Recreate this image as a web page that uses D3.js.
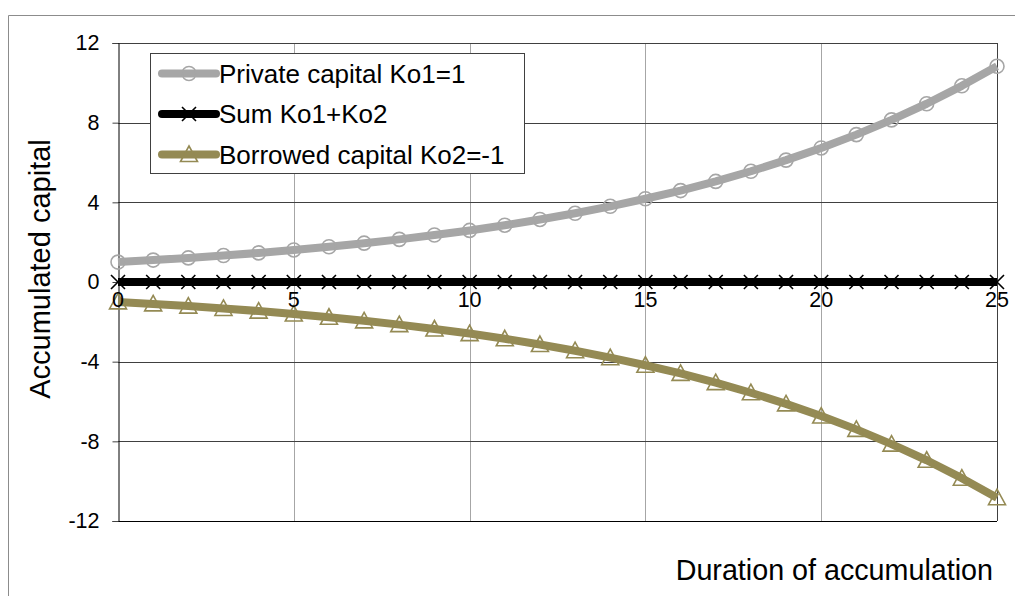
<!DOCTYPE html>
<html><head><meta charset="utf-8">
<script src="https://cdn.jsdelivr.net/npm/d3@7"></script>
<style>body{margin:0;background:#fff;}svg{display:block;font-family:"Liberation Sans",Arial,sans-serif;}</style>
</head><body>
<svg id="c" width="1015" height="596"></svg>
<script>
const years = [0,1,2,3,4,5,6,7,8,9,10,11,12,13,14,15,16,17,18,19,20,21,22,23,24,25];
const privateCap = [1,1.1,1.21,1.33,1.46,1.61,1.77,1.95,2.14,2.36,2.59,2.85,3.14,3.45,3.8,4.18,4.59,5.05,5.56,6.12,6.73,7.4,8.14,8.95,9.85,10.83];
const sumCap = [0,0,0,0,0,0,0,0,0,0,0,0,0,0,0,0,0,0,0,0,0,0,0,0,0,0];
const borrowedCap = [-1,-1.1,-1.21,-1.33,-1.46,-1.61,-1.77,-1.95,-2.14,-2.36,-2.59,-2.85,-3.14,-3.45,-3.8,-4.18,-4.59,-5.05,-5.56,-6.12,-6.73,-7.4,-8.14,-8.95,-9.85,-10.83];
const seriesNames = ["Private capital Ko1=1","Sum Ko1+Ko2","Borrowed capital Ko2=-1"];
const yTicks = [-12,-8,-4,0,4,8,12];
const xTicks = [0,5,10,15,20,25];
const xTitle = "Duration of accumulation";
const yTitle = "Accumulated capital";

const svg = d3.select("#c");
const L=118, R=997, T=43, B=521;
const x = d3.scaleLinear().domain([0,25]).range([L,R]);
const y = d3.scaleLinear().domain([-12,12]).range([B,T]);
const fmt = d => String(d);

// outer frame
svg.append("line").attr("x1",8.5).attr("x2",1015).attr("y1",15.5).attr("y2",15.5).attr("stroke","#8c8c8c");
svg.append("line").attr("x1",8.5).attr("x2",8.5).attr("y1",15.5).attr("y2",596).attr("stroke","#8c8c8c");

// vertical gridlines
svg.append("g").selectAll("line").data(xTicks.filter(d=>d>0&&d<25)).join("line")
  .attr("x1",d=>Math.round(x(d))+0.5).attr("x2",d=>Math.round(x(d))+0.5)
  .attr("y1",T).attr("y2",B).attr("stroke","#a6a6a6").attr("stroke-width",1);
// horizontal gridlines
svg.append("g").selectAll("line").data(yTicks).join("line")
  .attr("x1",L).attr("x2",R).attr("y1",d=>Math.round(y(d))+0.5).attr("y2",d=>Math.round(y(d))+0.5)
  .attr("stroke","#404040").attr("stroke-width",1);
// right border
svg.append("line").attr("x1",R+0.5).attr("x2",R+0.5).attr("y1",T).attr("y2",B).attr("stroke","#404040");
// bottom border
svg.append("line").attr("x1",L).attr("x2",R).attr("y1",B+0.5).attr("y2",B+0.5).attr("stroke","#000");

// y axis
const yAxis = d3.axisLeft(y).tickValues(yTicks).tickSize(6).tickPadding(13).tickFormat(fmt);
const gy = svg.append("g").attr("transform",`translate(${L+0.5},0)`).call(yAxis);
gy.attr("font-size",null).attr("font-family",null);
gy.select(".domain").attr("stroke","#000");
gy.selectAll(".tick line").attr("stroke","#404040");
gy.selectAll("text").style("font-size","21.5px").attr("fill","#000");

// y axis title
svg.append("text").attr("transform",`translate(50,269) rotate(-90)`).attr("text-anchor","middle")
  .style("font-size","29px").attr("fill","#000").text(yTitle);
// x axis title
svg.append("text").attr("x",993).attr("y",580).attr("text-anchor","end").style("font-size","28.7px").attr("fill","#000").text(xTitle);

// series
const series = [
  {name:seriesNames[0], vals:privateCap, color:"#a6a6a6", marker:"circle"},
  {name:seriesNames[1], vals:sumCap, color:"#000000", marker:"x"},
  {name:seriesNames[2], vals:borrowedCap, color:"#948a54", marker:"tri"}
];
const line = d3.line().x((d,i)=>x(years[i])).y(d=>y(d));

function drawMarker(g, type, color){
  if(type==="circle"){
    g.append("circle").attr("r",7).attr("fill","none").attr("stroke",color).attr("stroke-width",1.6);
  } else if(type==="x"){
    g.append("path").attr("d","M-7,-7L7,7M-7,7L7,-7").attr("stroke",color).attr("stroke-width",1.6);
  } else {
    g.append("path").attr("d","M0,-8.5L8.5,7L-8.5,7Z").attr("fill","none").attr("stroke",color).attr("stroke-width",1.6);
  }
}

series.forEach(s=>{
  const g = svg.append("g");
  g.append("path").datum(s.vals).attr("d",line).attr("fill","none").attr("stroke",s.color)
    .attr("stroke-width",8).attr("stroke-linejoin","round");
  s.vals.forEach((v,i)=>{
    const mg = g.append("g").attr("transform",`translate(${x(years[i])},${y(v)})`);
    drawMarker(mg, s.marker, s.color);
  });
});

// x tick labels on zero line
svg.append("g").selectAll("text").data(xTicks).join("text")
  .attr("x",d=>x(d)).attr("y",y(0)+25).attr("text-anchor","middle")
  .style("font-size","21.5px").attr("fill","#000").text(fmt);

// legend
const lg = svg.append("g");
lg.append("rect").attr("x",150.5).attr("y",53.5).attr("width",374).attr("height",120)
  .attr("fill","#fff").attr("stroke","#404040");
series.forEach((s,i)=>{
  const cy = 73.5 + i*40.5;
  lg.append("line").attr("x1",162).attr("x2",216).attr("y1",cy).attr("y2",cy)
    .attr("stroke",s.color).attr("stroke-width",8).attr("stroke-linecap","round");
  const mg = lg.append("g").attr("transform",`translate(189,${cy})`);
  drawMarker(mg, s.marker, s.color);
  lg.append("text").attr("x",219).attr("y",cy).attr("dy","0.35em").style("font-size","26px")
    .attr("fill","#000").text(s.name);
});
</script>
</body></html>
